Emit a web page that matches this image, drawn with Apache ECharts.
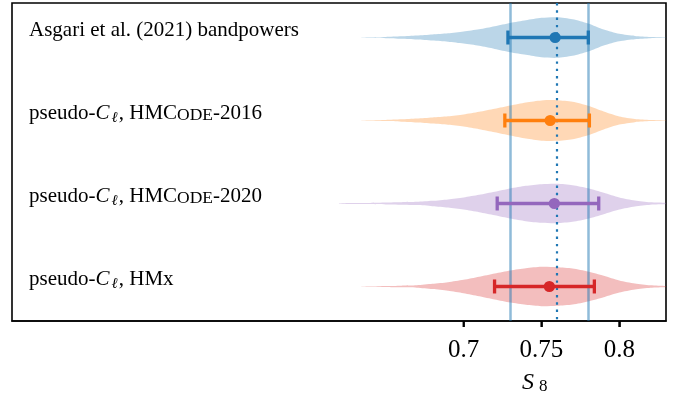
<!DOCTYPE html>
<html>
<head>
<meta charset="utf-8">
<script src="https://cdn.jsdelivr.net/npm/echarts@6/dist/echarts.min.js"></script>
<style>
  html, body { margin: 0; padding: 0; background: #fff; }
  #chart { width: 686px; height: 403px; }
</style>
</head>
<body>
<div id="chart"></div>
<script>
// S8 values at which each posterior density is sampled
const s8Grid = [0.62, 0.63, 0.64, 0.65, 0.66, 0.67, 0.68, 0.69, 0.70, 0.71, 0.72,
                0.73, 0.74, 0.75, 0.76, 0.77, 0.78, 0.79, 0.80, 0.81, 0.82, 0.83];

// Relative posterior densities (peak ~ 1) for each analysis
const densityAsgari   = [0, 0, 0.01, 0.03, 0.06, 0.10, 0.15, 0.21, 0.30, 0.41, 0.56,
                         0.72, 0.85, 0.97, 1.00, 0.90, 0.69, 0.39, 0.18, 0.08, 0.03, 0.01];
const densityHMCode16 = [0, 0, 0.01, 0.03, 0.06, 0.10, 0.15, 0.21, 0.30, 0.43, 0.58,
                         0.74, 0.89, 0.99, 1.00, 0.92, 0.72, 0.44, 0.20, 0.08, 0.03, 0.01];
const densityHMCode20 = [0.01, 0.02, 0.03, 0.05, 0.06, 0.08, 0.13, 0.20, 0.30, 0.43, 0.58,
                         0.74, 0.87, 0.95, 0.97, 0.90, 0.75, 0.53, 0.30, 0.15, 0.06, 0.03];
const densityHMx      = [0, 0, 0.01, 0.02, 0.04, 0.06, 0.13, 0.21, 0.33, 0.48, 0.64,
                         0.79, 0.90, 0.97, 0.95, 0.89, 0.74, 0.53, 0.30, 0.15, 0.06, 0.02];

// Point estimates and 68% intervals
const s8Mean = [0.7588, 0.7556, 0.7583, 0.7551];
const s8Low  = [0.7285, 0.7265, 0.7216, 0.7199];
const s8High = [0.7801, 0.7808, 0.7868, 0.7840];

// Reference band (Asgari et al. 2021 bandpowers)
const bandLow = 0.7285;
const bandHigh = 0.781;
const bandCentre = 0.7588;

// Row labels (rich text markup)
const rowLabels = [
  '{n|Asgari et al. (2021) bandpowers}',
  '{n|pseudo-}{i|C}{s|ℓ}{n|, HMC}{sc|ODE}{n|-2016}',
  '{n|pseudo-}{i|C}{s|ℓ}{n|, HMC}{sc|ODE}{n|-2020}',
  '{n|pseudo-}{i|C}{s|ℓ}{n|, HMx}'
];

const xTicks = [0.7, 0.75, 0.8];
const xTickLabels = ['0.7', '0.75', '0.8'];

const X_MIN = 0.41, X_MAX = 0.83;
const Y_MIN = -0.416, Y_MAX = 3.416;
const densities = [densityAsgari, densityHMCode16, densityHMCode20, densityHMx];
const colors = ['#1f77b4', '#ff7f0e', '#9467bd', '#d62728'];
const fills = ['rgba(31,119,180,0.3)', 'rgba(255,127,14,0.3)',
               'rgba(148,103,189,0.3)', 'rgba(214,39,40,0.3)'];
const VIOLIN_HALF = 0.245;   // half-height of a violin at density 1, in row units
const TICK_LEN = 6;          // outward tick length in px
const SERIF = '"Liberation Serif", "Times New Roman", "DejaVu Serif", serif';

const rows = rowLabels.map((_, i) => [i]);

const labelRich = {
  n:  { fontFamily: SERIF, fontSize: 21, fill: '#000' },
  i:  { fontFamily: SERIF, fontSize: 21, fontStyle: 'italic', fill: '#000', padding: [0, 1, 0, 0] },
  s:  { fontFamily: SERIF, fontSize: 15, fontStyle: 'italic', fill: '#000', padding: [9, 1, 0, 1] },
  sc: { fontFamily: SERIF, fontSize: 17.5, fill: '#000', padding: [3, 0, 0, 0] }
};

const axisTitle = {
  id: 'axis-title',
  type: 'text',
  left: 522, top: 371,
  style: {
    text: '{i|S}{s|8}',
    rich: {
      i: { fontFamily: SERIF, fontSize: 24, fontStyle: 'italic', fill: '#000' },
      s: { fontFamily: SERIF, fontSize: 17, fill: '#000', padding: [8, 0, 0, 5] }
    }
  }
};

const chart = echarts.init(document.getElementById('chart'), null, { renderer: 'canvas' });

chart.setOption({
  animation: false,
  grid: {
    left: 12, right: 20, top: 3, bottom: 82,
    show: true, borderColor: '#000', borderWidth: 1.6, backgroundColor: 'transparent'
  },
  xAxis: {
    type: 'value',
    position: 'bottom',
    min: X_MIN, max: X_MAX,
    axisLine: { show: true, onZero: false, lineStyle: { color: '#000', width: 1.6 } },
    splitLine: { show: false },
    axisTick: {
      show: true, inside: false, length: TICK_LEN,
      customValues: xTicks,
      lineStyle: { color: '#000', width: 1.6 }
    },
    axisLabel: {
      show: true,
      customValues: xTicks,
      margin: 17,
      fontFamily: SERIF, fontSize: 25, color: '#000',
      formatter: v => xTickLabels[xTicks.findIndex(t => Math.abs(t - v) < 1e-9)]
    }
  },
  yAxis: {
    type: 'value',
    inverse: true,
    min: Y_MIN, max: Y_MAX,
    axisLine: { show: false, onZero: false },
    axisTick: { show: false },
    axisLabel: { show: false },
    splitLine: { show: false }
  },
  graphic: [axisTitle],
  series: [
    {
      // violins
      type: 'custom',
      z: 2,
      clip: true,
      data: rows,
      renderItem: (params, api) => {
        const i = api.value(0);
        const d = densities[i];
        const upper = [], lower = [];
        for (let k = 0; k < s8Grid.length; k++) {
          upper.push(api.coord([s8Grid[k], i - d[k] * VIOLIN_HALF]));
          lower.push(api.coord([s8Grid[k], i + d[k] * VIOLIN_HALF]));
        }
        return {
          type: 'polygon',
          shape: { points: upper.concat(lower.reverse()), smooth: 0.25 },
          style: { fill: fills[i] }
        };
      }
    },
    {
      // reference band edges and centre
      type: 'line',
      z: 3,
      data: [],
      markLine: {
        silent: true,
        symbol: ['none', 'none'],
        label: { show: false },
        emphasis: { disabled: true },
        data: [
          { xAxis: bandLow,  lineStyle: { color: 'rgba(31,119,180,0.5)', width: 2.5, type: 'solid' } },
          { xAxis: bandHigh, lineStyle: { color: 'rgba(31,119,180,0.5)', width: 2.5, type: 'solid' } },
          { xAxis: bandCentre, lineStyle: { color: '#1f77b4', width: 2.2, type: [2.4, 4.9] } }
        ]
      }
    },
    {
      // error bars with point estimates
      type: 'custom',
      z: 5,
      data: rows,
      renderItem: (params, api) => {
        const i = api.value(0);
        const lo = api.coord([s8Low[i], i]);
        const hi = api.coord([s8High[i], i]);
        const c = api.coord([s8Mean[i], i]);
        const cap = 7;
        const ls = { stroke: colors[i], lineWidth: 3.3 };
        return {
          type: 'group',
          children: [
            { type: 'line', shape: { x1: lo[0], y1: lo[1], x2: hi[0], y2: hi[1] }, style: ls },
            { type: 'line', shape: { x1: lo[0], y1: lo[1] - cap, x2: lo[0], y2: lo[1] + cap }, style: ls },
            { type: 'line', shape: { x1: hi[0], y1: hi[1] - cap, x2: hi[0], y2: hi[1] + cap }, style: ls },
            { type: 'circle', shape: { cx: c[0], cy: c[1], r: 5.6 }, style: { fill: colors[i] } }
          ]
        };
      }
    },
    {
      // row labels
      type: 'custom',
      z: 6,
      data: rows,
      renderItem: (params, api) => {
        const i = api.value(0);
        const p = api.coord([X_MIN, i]);
        return {
          type: 'text',
          x: p[0] + 17,
          y: p[1] - 7,
          style: {
            text: rowLabels[i],
            rich: labelRich,
            align: 'left',
            verticalAlign: 'middle'
          }
        };
      }
    }
  ]
});

// Outward ticks below the x axis, placed through the axis scale
const tickMarks = xTicks.map((t, k) => {
  const p = chart.convertToPixel({ xAxisIndex: 0, yAxisIndex: 0 }, [t, Y_MAX]);
  return {
    id: 'x-tick-' + k,
    type: 'rect',
    z: 100,
    silent: true,
    shape: { x: p[0] - 1, y: p[1], width: 2, height: TICK_LEN },
    style: { fill: '#000' }
  };
});
chart.setOption({ graphic: [axisTitle].concat(tickMarks) });
</script>
</body>
</html>
